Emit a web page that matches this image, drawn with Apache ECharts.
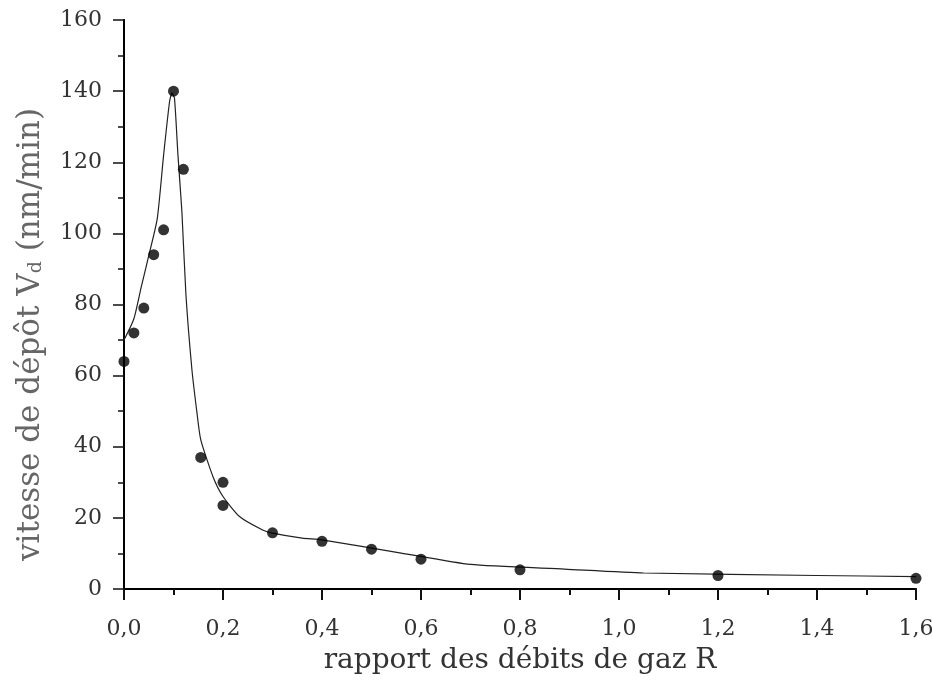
<!DOCTYPE html>
<html>
<head>
<meta charset="utf-8">
<script src="https://cdn.jsdelivr.net/npm/echarts@6/dist/echarts.min.js"></script>
<style>
  html, body { margin: 0; padding: 0; background: #fff; }
  #chart { width: 932px; height: 691px; }
</style>
</head>
<body>
<div id="chart"></div>
<script>
// measured points
const ratioR = [0, 0.02, 0.04, 0.06, 0.08, 0.1, 0.12, 0.155, 0.2, 0.2, 0.3, 0.4, 0.5, 0.6, 0.8, 1.2, 1.6]
const rateVd = [64, 72, 79, 94, 101, 140, 118, 37, 30, 23.5, 15.8, 13.4, 11.2, 8.4, 5.4, 3.8, 3]

// guide curve drawn through the data
const curveR = [0, 0.02, 0.035, 0.047, 0.067, 0.08, 0.092, 0.097, 0.102, 0.109, 0.117, 0.125, 0.137, 0.147, 0.155,
  0.18, 0.2, 0.234, 0.28, 0.3, 0.36, 0.4, 0.56, 0.7, 0.89, 1.05, 1.4, 1.6]
const curveVd = [70, 76, 85, 92, 104, 122, 137, 139.5, 138, 122, 106, 83, 62, 50, 42,
  31.5, 26, 20.3, 16.6, 15.7, 14.3, 13.8, 10.1, 6.9, 5.6, 4.5, 3.8, 3.5]

const xTicks = { min: 0, max: 1.6, interval: 0.2 }
const yTicks = { min: 0, max: 160, interval: 20 }

const font = 'DejaVu Serif'
const chart = echarts.init(document.getElementById('chart'))

const fmtComma = v => v.toFixed(1).replace('.', ',')

chart.setOption({
  animation: false,
  backgroundColor: '#fff',
  grid: { left: 124, right: 16, top: 20, bottom: 102, outerBoundsMode: 'none', containLabel: false },
  xAxis: [
    {
      type: 'value',
      ...xTicks,
      position: 'bottom',
      name: 'rapport des débits de gaz R',
      nameLocation: 'middle',
      nameGap: 58,
      nameTextStyle: { fontFamily: font, fontSize: 28, color: '#333' },
      axisLine: { show: true, onZero: false, lineStyle: { color: '#777', width: 1.5 } },
      axisTick: { show: true, inside: false, length: 11, lineStyle: { color: '#111', width: 2 } },
      minorTick: { show: true, splitNumber: 2, length: 6, lineStyle: { color: '#111', width: 2 } },
      axisLabel: { fontFamily: font, fontSize: 22, color: '#333', margin: 29, formatter: fmtComma },
      splitLine: { show: false },
    },
    {
      type: 'value',
      ...xTicks,
      position: 'top',
      axisLine: { show: true, lineStyle: { color: '#000', width: 2 } },
      axisTick: { show: false },
      axisLabel: { show: false },
      splitLine: { show: false },
    },
  ],
  yAxis: [
    {
      type: 'value',
      ...yTicks,
      position: 'left',
      name: 'vitesse de dépôt V{sub|d} (nm/min)',
      nameLocation: 'middle',
      nameGap: 78,
      nameTextStyle: {
        fontFamily: font, fontSize: 31, color: '#666',
        padding: [0, 60, 0, 0],
        rich: { sub: { fontFamily: font, fontSize: 19, color: '#666', verticalAlign: 'bottom', padding: [12, 0, 0, 0] } },
      },
      axisLine: { show: true, onZero: false, lineStyle: { color: '#000', width: 2 } },
      axisTick: { show: true, inside: false, length: 11, lineStyle: { color: '#111', width: 1.5 } },
      minorTick: { show: true, splitNumber: 2, length: 6, lineStyle: { color: '#111', width: 1.5 } },
      axisLabel: { fontFamily: font, fontSize: 22, color: '#333', margin: 22 },
      splitLine: { show: false },
    },
    {
      type: 'value',
      ...yTicks,
      position: 'right',
      axisLine: { show: true, lineStyle: { color: '#000', width: 2 } },
      axisTick: { show: false },
      axisLabel: { show: false },
      splitLine: { show: false },
    },
  ],
  series: [
    {
      type: 'line',
      data: curveR.map((r, i) => [r, curveVd[i]]),
      smooth: 0.2,
      showSymbol: false,
      lineStyle: { color: '#222', width: 1.2 },
      z: 2,
    },
    {
      type: 'scatter',
      data: ratioR.map((r, i) => [r, rateVd[i]]),
      symbol: 'circle',
      symbolSize: 11,
      itemStyle: { color: '#000' },
      clip: false,
      z: 3,
    },
  ],
})
</script>
</body>
</html>
